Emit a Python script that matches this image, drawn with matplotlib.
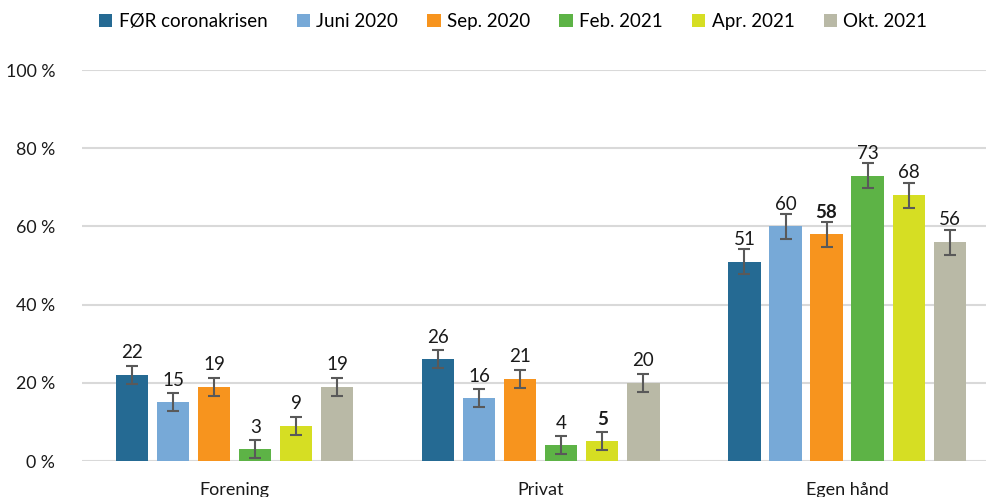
import matplotlib.pyplot as plt
import numpy as np

plt.rcParams['font.family'] = ['Lato', 'DejaVu Sans']

categories = ["Forening", "Privat", "Egen hånd"]
series = ["FØR coronakrisen", "Juni 2020", "Sep. 2020", "Feb. 2021", "Apr. 2021", "Okt. 2021"]
colors = ["#256A93", "#77A9D7", "#F7941E", "#5DB346", "#D6DE23", "#B9B9A6"]

# values per series, one per category
values = [
    [22, 26, 51],
    [15, 16, 60],
    [19, 21, 58],
    [3, 4, 73],
    [9, 5, 68],
    [19, 20, 56],
]
# error bar half-widths
errors = [
    [2.3, 2.3, 3.2],
    [2.3, 2.3, 3.2],
    [2.3, 2.3, 3.2],
    [2.3, 2.3, 3.2],
    [2.3, 2.3, 3.2],
    [2.3, 2.3, 3.2],
]
# labels shown in bold
bold = [
    [False, False, False],
    [False, False, False],
    [False, False, True],
    [False, False, False],
    [False, True, False],
    [False, False, False],
]

fig = plt.figure(figsize=(9.87, 4.97), dpi=100)
ax = fig.add_axes([0.0827, 0.0724, 0.9306, 0.7867])

x = np.arange(len(categories))
w = 0.105
step = 0.134

for i, name in enumerate(series):
    pos = x + (i - 2.5) * step
    ax.bar(pos, values[i], width=w, color=colors[i], label=name, zorder=3)
    ax.errorbar(pos, values[i], yerr=errors[i], fmt="none", ecolor="#595959",
                elinewidth=1.5, capsize=4.5, capthick=1.5, zorder=4)
    for j in range(len(categories)):
        ax.annotate(str(values[i][j]), (pos[j], values[i][j]), xytext=(0, 16),
                    textcoords="offset points", ha="center", va="center",
                    fontsize=13.5, color="#1a1a1a",
                    fontweight="bold" if bold[i][j] else "normal", zorder=5)

ax.set_xlim(-0.5, 2.5)
ax.set_ylim(0, 100)
ax.set_yticks([0, 20, 40, 60, 80, 100])
ax.set_yticklabels(["0 %", "20 %", "40 %", "60 %", "80 %", "100 %"])
ax.set_xticks(x)
ax.set_xticklabels(categories)
ax.tick_params(axis="y", length=0, pad=19, labelsize=12.8, labelcolor="#1a1a1a")
ax.tick_params(axis="x", length=0, pad=15, labelsize=13, labelcolor="#1a1a1a")
ax.yaxis.grid(True, color="#D9D9D9", linewidth=1.5, zorder=0)
for s in ax.spines.values():
    s.set_visible(False)

fig.legend(loc="upper center", bbox_to_anchor=(0.520, 1.0), ncol=6, frameon=False,
           fontsize=13.5, handlelength=0.7, handleheight=0.7, handletextpad=0.35,
           columnspacing=1.55, borderaxespad=0.3)

fig.savefig("out.png", dpi=100)
